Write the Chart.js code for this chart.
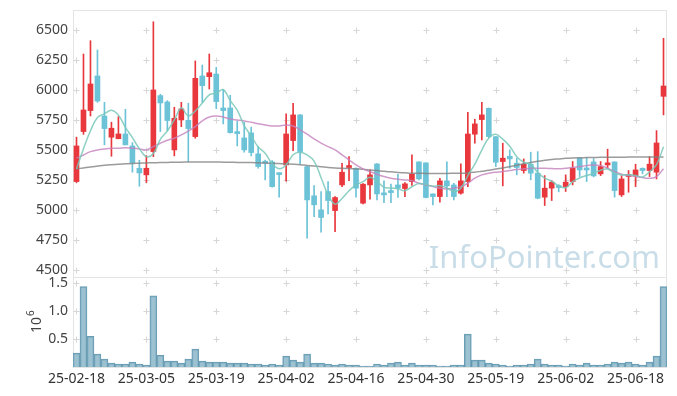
<!DOCTYPE html>
<html>
<head>
<meta charset="utf-8">
<script src="https://cdn.jsdelivr.net/npm/chart.js@4.4.1/dist/chart.umd.min.js"></script>
<style>
  html, body { margin: 0; padding: 0; background: #fff; }
  #wrap { position: relative; width: 677px; height: 396px; }
  #price { position: absolute; left: 0; top: 0; }
  #vol { position: absolute; left: 0; top: 277px; }
</style>
</head>
<body>
<div id="wrap">
  <canvas id="price" width="677" height="278"></canvas>
  <canvas id="vol" width="677" height="119"></canvas>
</div>
<script>
// trading days (yy-mm-dd)
const dates = [
  "25-02-18","25-02-19","25-02-20","25-02-21","25-02-24","25-02-25","25-02-26","25-02-27","25-02-28","25-03-04",
  "25-03-05","25-03-06","25-03-07","25-03-10","25-03-11","25-03-12","25-03-13","25-03-14","25-03-17","25-03-18",
  "25-03-19","25-03-20","25-03-21","25-03-24","25-03-25","25-03-26","25-03-27","25-03-28","25-03-31","25-04-01",
  "25-04-02","25-04-03","25-04-04","25-04-07","25-04-08","25-04-09","25-04-10","25-04-11","25-04-14","25-04-15",
  "25-04-16","25-04-17","25-04-18","25-04-21","25-04-22","25-04-23","25-04-24","25-04-25","25-04-28","25-04-29",
  "25-04-30","25-05-02","25-05-07","25-05-08","25-05-09","25-05-12","25-05-13","25-05-14","25-05-15","25-05-16",
  "25-05-19","25-05-20","25-05-21","25-05-22","25-05-23","25-05-26","25-05-27","25-05-28","25-05-29","25-05-30",
  "25-06-02","25-06-04","25-06-05","25-06-09","25-06-10","25-06-11","25-06-12","25-06-13","25-06-16","25-06-17",
  "25-06-18","25-06-19","25-06-20","25-06-23","25-06-24"
];

const openP = [
  5236,5653,5828,6117,5783,5606,5594,5633,5533,5347, 5292,5486,5953,5900,5500,5750,5747,5611,6117,6111,
  6133,5850,5850,5650,5600,5642,5467,5403,5400,5306, 5375,5578,5792,5361,5117,5000,5153,4994,5208,5353,
  5347,5056,5208,5383,5133,5150,5208,5178,5236,5400, 5392,5133,5111,5242,5208,5139,5236,5631,5753,5847,
  5611,5403,5447,5389,5328,5381,5306,5106,5181,5200, 5194,5236,5431,5342,5400,5300,5375,5400,5125,5278,
  5283,5347,5328,5314,5947
];
const highP = [
  5606,6300,6411,6333,5897,5731,5778,5839,5561,5414, 5453,6569,5964,5911,5856,5897,5889,6242,6208,6300,
  6189,6006,5956,5739,5730,5690,5528,5415,5410,5308, 5800,5889,5795,5365,5203,5153,5236,5110,5389,5444,
  5350,5220,5333,5385,5242,5214,5297,5228,5458,5400, 5392,5133,5264,5400,5222,5383,5814,5756,5897,5850,
  5611,5556,5500,5431,5425,5481,5486,5286,5244,5210, 5292,5403,5436,5436,5428,5403,5506,5400,5286,5328,
  5381,5350,5444,5661,6431
];
const lowP = [
  5228,5630,5783,5897,5542,5447,5592,5542,5314,5197, 5228,5444,5653,5661,5450,5694,5403,5597,5897,6008,
  5844,5717,5640,5533,5481,5450,5347,5250,5190,5106, 5239,5494,5381,4764,4944,4814,4967,4819,5194,5244,
  5106,5050,5089,5083,5061,5061,5103,5111,5203,5250, 5100,5042,5064,5111,5083,5130,5194,5556,5583,5600,
  5361,5200,5347,5292,5306,5250,5092,5036,5078,5150, 5153,5208,5278,5236,5275,5286,5347,5106,5111,5147,
  5194,5300,5278,5258,5792
];
const closeP = [
  5533,5833,6050,5908,5678,5681,5633,5542,5392,5308, 5347,6000,5892,5745,5764,5842,5678,6097,6036,6144,
  5903,5828,5644,5636,5500,5478,5361,5389,5194,5294, 5633,5792,5486,5083,5042,4936,5078,5103,5314,5364,
  5181,5214,5292,5133,5125,5144,5181,5217,5297,5258, 5103,5111,5242,5200,5111,5242,5633,5717,5792,5611,
  5397,5431,5425,5353,5381,5306,5097,5181,5231,5186, 5231,5347,5333,5333,5283,5361,5392,5161,5258,5292,
  5333,5328,5381,5558,6033
];

const ma5 = [
  5340,5510,5660,5770,5800,5830,5790,5688,5603,5511, 5444,5470,5588,5658,5750,5849,5784,5825,5891,5959,
  5972,6002,5911,5831,5702,5617,5524,5473,5384,5343, 5374,5460,5480,5458,5407,5268,5125,5048,5095,5159,
  5208,5235,5273,5237,5189,5182,5175,5160,5193,5219, 5211,5197,5202,5183,5153,5181,5286,5381,5499,5599,
  5630,5590,5531,5443,5397,5379,5312,5264,5239,5200, 5185,5235,5266,5286,5305,5331,5340,5306,5291,5293,
  5287,5274,5318,5378,5527
];
const ma20 = [
  5431,5458,5486,5500,5508,5514,5514,5519,5514,5508, 5500,5528,5556,5581,5597,5625,5658,5694,5742,5775,
  5783,5775,5758,5750,5742,5731,5719,5708,5700,5700, 5708,5700,5667,5631,5592,5556,5528,5500,5458,5417,
  5375,5342,5319,5297,5278,5264,5256,5250,5244,5222, 5208,5194,5181,5175,5181,5194,5222,5264,5292,5306,
  5314,5319,5328,5336,5342,5347,5347,5347,5344,5342, 5347,5353,5361,5369,5375,5369,5347,5319,5297,5286,
  5278,5269,5264,5278,5342
];
const ma60 = [
  5342,5350,5358,5365,5372,5377,5381,5384,5387,5389, 5391,5393,5395,5396,5397,5398,5399,5400,5400,5400,
  5399,5398,5397,5396,5395,5394,5392,5390,5388,5386, 5384,5381,5377,5371,5365,5359,5354,5350,5347,5344,
  5341,5338,5333,5328,5322,5317,5312,5309,5306,5305, 5304,5304,5304,5304,5305,5306,5308,5314,5322,5330,
  5340,5350,5360,5372,5384,5395,5405,5413,5420,5425, 5430,5433,5435,5436,5437,5438,5438,5439,5439,5440,
  5440,5440,5441,5441,5441
];

const volume = [
  247000,1435000,547000,229000,141000,70000,53000,53000,88000,53000,
  35000,1270000,210000,106000,106000,70000,141000,318000,106000,88000,
  88000,88000,70000,70000,70000,53000,53000,35000,53000,35000,
  194000,124000,88000,229000,70000,70000,53000,35000,53000,35000,
  35000,18000,18000,53000,35000,70000,88000,35000,70000,35000,
  35000,35000,18000,18000,35000,35000,588000,124000,124000,70000,
  53000,35000,18000,35000,35000,53000,141000,53000,35000,35000,
  18000,53000,35000,70000,35000,35000,53000,88000,70000,88000,
  53000,35000,88000,194000,1435000
];

const priceTicks = [4500, 4750, 5000, 5250, 5500, 5750, 6000, 6250, 6500];
const volumeTicks = [0, 500000, 1000000, 1500000];

const UP = "#e8383d";
const DOWN = "#6cc3d8";
const candleColor = closeP.map((c, i) => (c >= openP[i] ? UP : DOWN));
const FONT = "'Noto Sans', sans-serif";

// light "+" marks where grid lines would cross, plus the plot frame
const crossGrid = {
  id: "crossGrid",
  beforeDatasetsDraw(chart) {
    const { ctx, chartArea, scales } = chart;
    ctx.save();
    ctx.strokeStyle = "#e4e4e4";
    ctx.lineWidth = 1;
    ctx.strokeRect(chartArea.left + 0.5, chartArea.top + 0.5,
      chartArea.right - chartArea.left - 1, chartArea.bottom - chartArea.top);
    ctx.strokeStyle = "#d6d6d6";
    for (let i = 0; i < dates.length; i += 10) {
      const x = Math.round(scales.x.getPixelForValue(i)) + 0.5;
      scales.y.ticks.forEach((t) => {
        if (t.value === 0) return;
        const y = Math.round(scales.y.getPixelForValue(t.value)) + 0.5;
        ctx.beginPath();
        ctx.moveTo(x - 3, y); ctx.lineTo(x + 3, y);
        ctx.moveTo(x, y - 3); ctx.lineTo(x, y + 3);
        ctx.stroke();
      });
    }
    ctx.restore();
  }
};

const watermark = {
  id: "watermark",
  beforeDatasetsDraw(chart) {
    const ctx = chart.ctx;
    ctx.save();
    ctx.font = "31px " + FONT;
    ctx.fillStyle = "rgba(165,198,216,0.6)";
    ctx.textAlign = "right";
    ctx.textBaseline = "alphabetic";
    ctx.fillText("InfoPointer.com", 660, 268);
    ctx.restore();
  }
};

// fixed axis width, and no extra room for the end labels
const fixedLeft = (scale) => {
  scale.width = 73;
  scale.paddingTop = 0;
  scale.paddingBottom = 0;
};

new Chart(document.getElementById("price").getContext("2d"), {
  type: "bar",
  data: {
    labels: dates,
    datasets: [
      { type: "line", data: ma5, borderColor: "rgba(120,200,185,0.85)", borderWidth: 1.5, pointRadius: 0, tension: 0.4, order: 0 },
      { type: "line", data: ma20, borderColor: "rgba(196,130,190,0.8)", borderWidth: 1.5, pointRadius: 0, tension: 0.4, order: 0 },
      { type: "line", data: ma60, borderColor: "rgba(130,130,130,0.8)", borderWidth: 1.5, pointRadius: 0, tension: 0.4, order: 0 },
      { data: openP.map((o, i) => [o, closeP[i]]), backgroundColor: candleColor, barThickness: 5, minBarLength: 2, grouped: false, order: 1 },
      { data: lowP.map((l, i) => [l, highP[i]]), backgroundColor: candleColor, barThickness: 1, grouped: false, order: 2 }
    ]
  },
  options: {
    responsive: false,
    animation: false,
    layout: { padding: { left: 0, right: 10, top: 10, bottom: 1 } },
    plugins: { legend: { display: false }, tooltip: { enabled: false } },
    scales: {
      x: { display: false },
      y: {
        min: 4440,
        max: 6667,
        afterFit: fixedLeft,
        afterBuildTicks: (scale) => { scale.ticks = priceTicks.map((v) => ({ value: v })); },
        grid: { display: false, drawTicks: false },
        border: { display: false },
        ticks: { padding: 5, color: "#444", font: { family: FONT, size: 14 }, callback: (v) => String(v) }
      }
    }
  },
  plugins: [crossGrid, watermark]
});

const powerLabel = {
  id: "powerLabel",
  afterDraw(chart) {
    const ctx = chart.ctx;
    ctx.save();
    ctx.translate(33, 45);
    ctx.rotate(-Math.PI / 2);
    ctx.fillStyle = "#444";
    ctx.textBaseline = "middle";
    ctx.font = "14px " + FONT;
    ctx.textAlign = "left";
    const w = ctx.measureText("10").width;
    ctx.fillText("10", -(w + 6) / 2, 4);
    ctx.font = "10px " + FONT;
    ctx.fillText("6", -(w + 6) / 2 + w + 1, -2);
    ctx.restore();
  }
};

new Chart(document.getElementById("vol").getContext("2d"), {
  type: "bar",
  data: {
    labels: dates,
    datasets: [{
      data: volume,
      backgroundColor: "rgba(128,176,196,0.78)",
      borderColor: "rgba(90,146,172,0.9)",
      borderWidth: 1,
      barPercentage: 1,
      categoryPercentage: 1
    }]
  },
  options: {
    responsive: false,
    animation: false,
    layout: { padding: { left: 0, right: 10, top: 0, bottom: 0 } },
    plugins: { legend: { display: false }, tooltip: { enabled: false } },
    scales: {
      x: {
        afterFit: (scale) => { scale.height = 29; },
        grid: { display: false, drawTicks: false },
        border: { display: false },
        ticks: {
          autoSkip: false,
          maxRotation: 0,
          padding: 4,
          color: "#333",
          font: { family: FONT, size: 14 },
          callback: (v, i) => (i % 10 === 0 ? dates[i] : "")
        }
      },
      y: {
        min: 0,
        max: 1606000,
        afterFit: fixedLeft,
        afterBuildTicks: (scale) => { scale.ticks = volumeTicks.map((v) => ({ value: v })); },
        grid: { display: false, drawTicks: false },
        border: { display: false },
        ticks: {
          padding: 5,
          color: "#444",
          font: { family: FONT, size: 14 },
          callback: (v) => (v === 0 ? "" : (v / 1000000).toFixed(1))
        }
      }
    }
  },
  plugins: [crossGrid, powerLabel]
});
</script>
</body>
</html>
